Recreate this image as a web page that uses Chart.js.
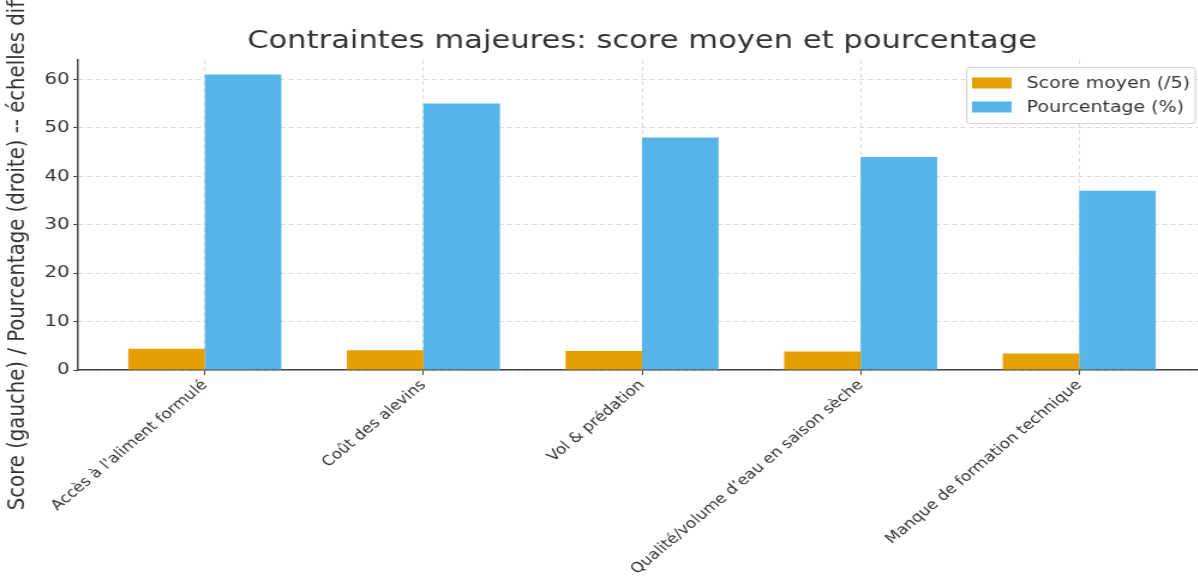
<!DOCTYPE html>
<html>
<head>
<meta charset="utf-8">
<script src="https://cdn.jsdelivr.net/npm/chart.js@4.4.0/dist/chart.umd.min.js"></script>
<style>
  html, body { margin: 0; padding: 0; background: #fff; overflow: hidden; }
</style>
</head>
<body>
<!-- the reference is stretched horizontally by about 1.2, so the canvas is too -->
<canvas id="contraintes" width="1010" height="580" style="display:block;width:1212px;height:580px"></canvas>
<script>
// categories and values
const categories = [
    "Accès à l'aliment formulé",
    'Coût des alevins',
    'Vol & prédation',
    'Qualité/volume d\u2019eau en saison sèche',
    'Manque de formation technique'
];
const scoreMoyen = [4.4, 4.1, 3.9, 3.8, 3.4];
const pourcentage = [61, 55, 48, 44, 37];

const FONT = '"DejaVu Sans", "Liberation Sans", sans-serif';

// centre the title over the plot area, like matplotlib does
const titleOverPlot = {
    id: 'titleOverPlot',
    afterLayout(chart) {
        if (chart.titleBlock) {
            chart.titleBlock.left = chart.chartArea.left;
            chart.titleBlock.right = chart.chartArea.right;
        }
    }
};

// legend drawn inside the plot, upper right
const legendInside = {
    id: 'legendInside',
    afterDraw(chart) {
        const { ctx, chartArea } = chart;
        const items = chart.data.datasets;
        ctx.save();
        ctx.font = '15.8px ' + FONT;
        const textW = Math.max(...items.map(d => ctx.measureText(d.label).width));
        const rowH = 24, padY = 4, padX = 5, swW = 33, swH = 11, gap = 12.5;
        const w = padX + swW + gap + textW + 4;
        const h = padY * 2 + rowH * items.length;
        const x = Math.round(chartArea.right - 9 - w), y = Math.round(chartArea.top + 7);
        ctx.fillStyle = 'rgba(255,255,255,0.85)';
        ctx.strokeStyle = '#d0d0d0';
        ctx.lineWidth = 1;
        ctx.beginPath();
        ctx.roundRect(x + 0.5, y + 0.5, w, h, 3);
        ctx.fill();
        ctx.stroke();
        items.forEach((d, i) => {
            const cy = y + padY + rowH * i + rowH / 2;
            ctx.fillStyle = d.backgroundColor;
            ctx.fillRect(x + padX, cy - swH / 2, swW, swH);
            ctx.fillStyle = '#333';
            ctx.textBaseline = 'middle';
            ctx.fillText(d.label, x + padX + swW + gap, cy + 1);
        });
        ctx.restore();
    }
};

const canvas = document.getElementById('contraintes');
const ctx = canvas.getContext('2d');
new Chart(ctx, {
    type: 'bar',
    data: {
        datasets: [
            {
                label: 'Score moyen (/5)',
                data: scoreMoyen.map((v, i) => ({ x: i, y: v })),
                backgroundColor: '#E69F00',
                borderWidth: 0
            },
            {
                label: 'Pourcentage (%)',
                data: pourcentage.map((v, i) => ({ x: i, y: v })),
                backgroundColor: '#56B4E9',
                borderWidth: 0
            }
        ]
    },
    options: {
        responsive: false,
        animation: false,
        devicePixelRatio: 1,
        categoryPercentage: 0.7,
        barPercentage: 1.0,
        layout: { padding: { left: 0, right: 5, top: 0, bottom: 0 } },
        plugins: {
            legend: { display: false },
            tooltip: { enabled: false },
            title: {
                display: true,
                text: 'Contraintes majeures: score moyen et pourcentage',
                color: '#333',
                font: { family: FONT, size: 25.5, weight: 'normal' },
                padding: { top: 26, bottom: 3.4 }
            }
        },
        scales: {
            x: {
                type: 'linear',
                offset: false,
                min: -0.58,
                max: 4.58,
                afterFit(scale) { scale.height = 210; },
                border: { display: true, color: '#444', width: 1.5, dash: [4, 3] },
                grid: {
                    offset: false,
                    color: 'rgba(0,0,0,0.15)',
                    drawTicks: true,
                    tickLength: 5,
                    tickColor: '#444',
                    tickBorderDash: []
                },
                ticks: {
                    stepSize: 1,
                    includeBounds: false,
                    autoSkip: false,
                    minRotation: 45,
                    maxRotation: 45,
                    padding: 2,
                    color: '#333',
                    font: { family: FONT, size: 14 },
                    callback: v => categories[v]
                }
            },
            y: {
                min: 0,
                max: 64,
                afterFit(scale) { scale.width = 65; },
                border: { display: true, color: '#444', width: 1.5, dash: [4, 3] },
                grid: {
                    color: 'rgba(0,0,0,0.15)',
                    drawTicks: true,
                    tickLength: 4,
                    tickColor: '#444',
                    tickBorderDash: []
                },
                ticks: {
                    stepSize: 10,
                    includeBounds: false,
                    padding: 3,
                    color: '#333',
                    font: { family: FONT, size: 16.5 }
                },
                title: {
                    display: true,
                    text: 'Score (gauche) / Pourcentage (droite) -- échelles différentes',
                    color: '#333',
                    font: { family: FONT, size: 19.7 },
                    padding: { top: 3, bottom: 0 }
                }
            }
        }
    },
    plugins: [titleOverPlot, legendInside]
});
canvas.style.width = '1212px';
canvas.style.height = '580px';
</script>
</body>
</html>
